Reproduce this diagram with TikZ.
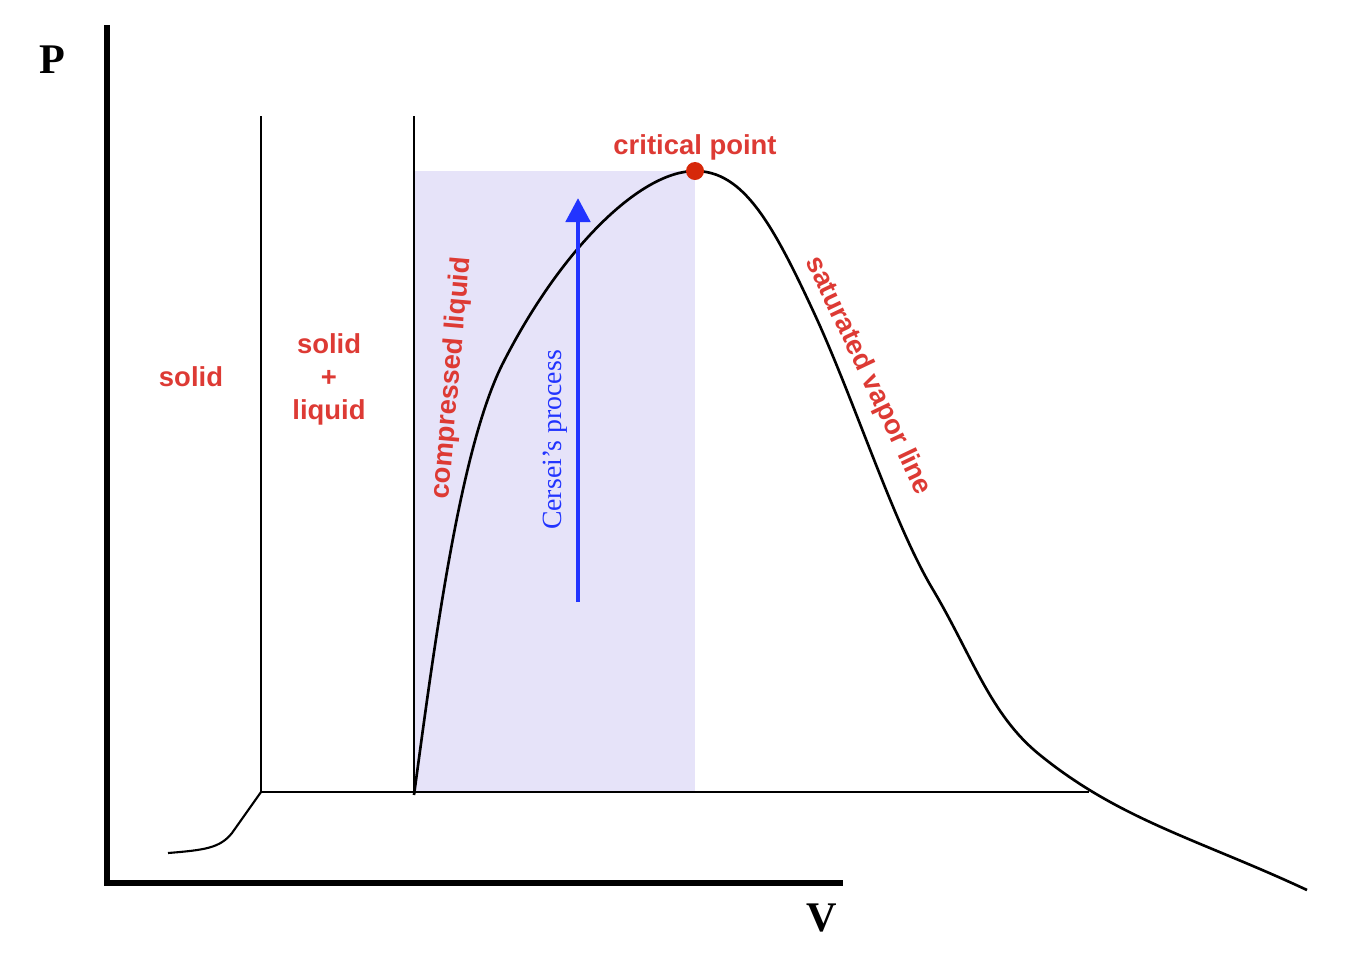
\documentclass[tikz,border=0pt]{standalone}
\usepackage{fontspec}
\setsansfont{Liberation Sans}
\newfontfamily\axisfont{Liberation Serif}
\usepackage{tikz}
\usetikzlibrary{
  calc,                  % Coordinate math
  arrows.meta            % Triangle tip for the process arrow
}
\definecolor{phasered}{RGB}{221,58,52}
\definecolor{dotred}{RGB}{214,40,10}
\definecolor{regionfill}{RGB}{230,227,249}
\definecolor{processblue}{RGB}{34,52,255}
\tikzset{
  phase/.style={text=phasered, font=\sffamily\bfseries\fontsize{7.8}{9.4}\selectfont, align=center},
  axislabel/.style={font=\axisfont\bfseries\fontsize{12}{14}\selectfont},
  thinline/.style={line width=0.6pt},
}

\begin{document}
\begin{tikzpicture}[x=0.01cm, y=-0.01cm]
        \useasboundingbox (0,0) rectangle (1367,960);

        % Shaded region under the dome
        \fill[regionfill] (414,171) rectangle (695,792);

        % Axes
        \draw[line width=1.45pt] (107,25) -- (107,883) -- (843,883);
        \node[axislabel] (plabel) at (52,60) {P};
        \node[axislabel] (vlabel) at (822,918) {V};

        % Phase boundaries
        \draw[thinline] (261,116) -- (261,792) -- (1089,792);
        \draw[thinline] (414,116) -- (414,795);
        \draw[thinline] (168,853) .. controls (205,850) and (220,848) .. (232,833) -- (261,792);

        % Saturation dome
        \coordinate (crit) at (695,171);
        \draw[line width=0.75pt] (414,795) .. controls (435,640) and (460,450) .. (502,365)
          .. controls (560,250) and (640,171) .. (crit)
          .. controls (743,171) and (772,222) .. (815,315)
          .. controls (855,402) and (893,522) .. (932,588)
          .. controls (972,655) and (990,715) .. (1040,755)
          .. controls (1120,820) and (1200,840) .. (1307,890);

        % Critical point
        \fill[dotred] (crit) circle (9);
        \node[phase] (critlabel) at (695,147) {critical point};

        % Process arrow
        \coordinate (pstart) at (578,602);
        \coordinate (pend) at (578,198);
        \draw[processblue, line width=1.4pt, -{Triangle[length=0.24cm, width=0.24cm]}] (pstart) -- (pend);
        \node[text=processblue, rotate=90, font=\axisfont\fontsize{7.9}{9.5}\selectfont] (process) at (555,440) {Cersei’s process};

        % Region labels
        \node[phase] (solid) at (191,377) {solid};
        \node[phase] (solidliquid) at (329,379) {solid\\+\\liquid};
        \node[phase, rotate=85] (compressed) at (452,378) {compressed liquid};
        \node[phase, rotate=-64.6] (vapor) at (868,376) {saturated vapor line};
    \end{tikzpicture}
\end{document}
